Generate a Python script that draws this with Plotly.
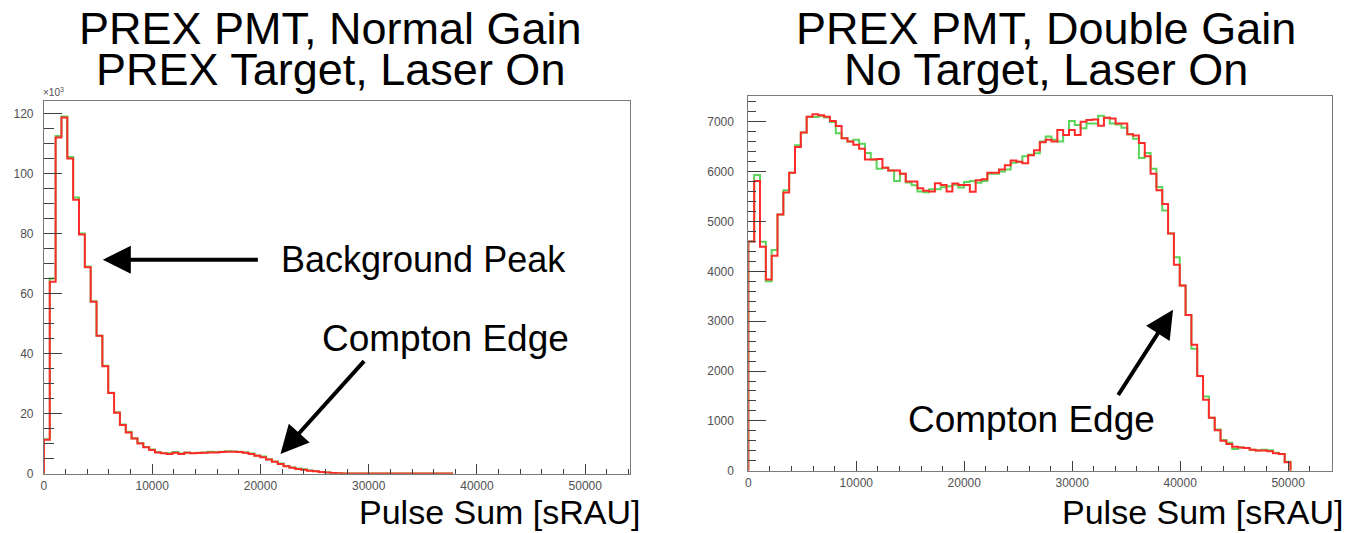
import plotly.graph_objects as go

W, H = 1360, 533
BIN_WIDTH = 540

# ---------------- data ----------------
# Left: PREX PMT, normal gain, PREX target, laser on  (counts in units of 10^3)
left_red_k = [11.3, 64.0, 112.0, 118.7, 105.0, 91.3, 79.7, 68.8, 57.3, 46.0,
              35.8, 26.9, 20.3, 16.2, 13.7, 11.7, 10.1, 8.8, 7.9, 7.1,
              6.8, 6.6, 7.0, 6.6, 7.0, 6.8, 6.9, 7.0, 7.1, 7.1,
              7.2, 7.3, 7.3, 7.2, 7.0, 6.6, 6.0, 5.5, 4.7, 4.0,
              3.2, 2.5, 2.0, 1.6, 1.3, 1.0, 0.8, 0.6, 0.4, 0.25,
              0.15, 0.1, 0.1, 0.1, 0.1, 0.1, 0.1, 0.1, 0.1, 0.1,
              0.1, 0.1, 0.1, 0.1, 0.1, 0.1, 0.1, 0.1, 0.1, 0.1]
left_green_k = [11.5, 65.0, 112.5, 119.0, 105.5, 92.0, 80.0, 69.0, 57.5, 46.0,
                36.0, 27.0, 20.5, 16.4, 14.0, 11.8, 10.2, 8.9, 8.1, 7.2,
                6.9, 6.8, 7.2, 6.7, 7.1, 6.9, 7.0, 7.1, 7.3, 7.2,
                7.3, 7.5, 7.4, 7.3, 7.1, 6.7, 6.1, 5.7, 4.8, 4.1,
                3.4, 2.6, 2.1, 1.7, 1.5, 1.1, 0.9, 0.6, 0.4, 0.25,
                0.15, 0.1, 0.1, 0.1, 0.1, 0.1, 0.1, 0.1, 0.1, 0.1,
                0.1, 0.1, 0.1, 0.1, 0.1, 0.1, 0.1, 0.1, 0.1, 0.1]

# Right: PREX PMT, double gain, no target, laser on  (counts)
right_red = [4600, 5815, 4495, 3838, 4314, 5142, 5584, 5980, 6495, 6785,
             7102, 7155, 7135, 7102, 7016, 6917, 6673, 6607, 6541, 6462,
             6244, 6244, 6257, 6079, 6026, 6026, 5960, 5802, 5802, 5670,
             5617, 5604, 5769, 5736, 5604, 5762, 5736, 5736, 5597, 5828,
             5848, 5980, 5980, 6046, 6132, 6224, 6200, 6172, 6330, 6429,
             6594, 6640, 6607, 6838, 6739, 6838, 6739, 7003, 7036, 7050,
             6924, 7082, 7069, 6970, 6970, 6752, 6726, 6574, 6310, 5960,
             5630, 5353, 4759, 4132, 3716, 3123, 2529, 1901, 1426, 1063,
             812, 601, 535, 482, 465, 455, 420, 405, 405, 390,
             350, 337, 172]
right_green = [4600, 5934, 4594, 3800, 4429, 5142, 5630, 5980, 6530, 6785,
               7102, 7100, 7120, 7090, 7000, 6772, 6673, 6607, 6640, 6560,
               6376, 6244, 6059, 6079, 6026, 5815, 5960, 5782, 5730, 5604,
               5590, 5650, 5650, 5690, 5710, 5740, 5683, 5795, 5815, 5780,
               5815, 5960, 5960, 6006, 6046, 6180, 6200, 6310, 6343, 6370,
               6607, 6706, 6640, 6607, 6739, 7016, 6937, 6871, 6970, 6970,
               7122, 7082, 6970, 6950, 6884, 6752, 6660, 6277, 6376, 6059,
               5696, 5221, 4759, 4284, 3716, 3123, 2450, 1901, 1492, 1063,
               830, 615, 560, 436, 465, 455, 420, 405, 420, 410,
               360, 337, 180]

left_title = ["PREX PMT, Normal Gain", "PREX Target, Laser On"]
right_title = ["PREX PMT, Double Gain", "No Target, Laser On"]
x_title = "Pulse Sum [sRAU]"


def step_xy(values, drop_end=False):
    n = len(values)
    edges = [i * BIN_WIDTH for i in range(n + 1)]
    x = [0] + edges
    y = [0] + list(values) + [values[-1]]
    if drop_end:
        x.append(edges[-1])
        y.append(0)
    return x, y


RED = "#ff2b2b"
GREEN = "#5ad55a"
FONT = "Liberation Sans, Arial, sans-serif"

fig = go.Figure()

for vals, col, xa, ya, drop in [
    (left_green_k, GREEN, "x", "y", False),
    (left_red_k, RED, "x", "y", False),
    (right_green, GREEN, "x2", "y2", True),
    (right_red, RED, "x2", "y2", True),
]:
    xs, ys = step_xy(vals, drop)
    fig.add_trace(go.Scatter(x=xs, y=ys, mode="lines", line=dict(color=col, width=2, shape="hv"),
                             xaxis=xa, yaxis=ya, showlegend=False, hoverinfo="skip"))


def px(x):
    return x / W


def py(y):
    return 1 - y / H


axis_common = dict(showgrid=False, zeroline=False, showline=True, linecolor="#7a7a7a", linewidth=1,
                   mirror=True, ticks="inside", tickcolor="#404040", tickwidth=1, tickformat="d",
                   tickfont=dict(family=FONT, size=12, color="#505050"))
minor_x = dict(dtick=2000, ticklen=5, ticks="inside", tickcolor="#404040")

fig.update_layout(
    width=W, height=H, margin=dict(l=0, r=0, t=0, b=0),
    paper_bgcolor="white", plot_bgcolor="white",
    xaxis=dict(domain=[px(41), px(628)], range=[0, 54100], anchor="y",
               dtick=10000, ticklen=10, minor=minor_x, ticklabelstandoff=1,
               **axis_common),
    yaxis=dict(domain=[py(480), py(102)], range=[0, 124.3], anchor="x",
               dtick=20, ticklen=18, minor=dict(dtick=5, ticklen=10, ticks="inside", tickcolor="#404040"),
               ticklabelstandoff=7, **axis_common),
    xaxis2=dict(domain=[px(747), px(1332)], range=[0, 54070], anchor="y2",
                dtick=10000, ticklen=10, minor=minor_x, ticklabelstandoff=1,
                **axis_common),
    yaxis2=dict(domain=[py(477), py(97)], range=[0, 7525], anchor="x2",
                dtick=1000, ticklen=18, minor=dict(dtick=200, ticklen=8, ticks="inside", tickcolor="#404040"),
                ticklabelstandoff=11, **axis_common),
)

ann = []
# titles
for lines, cx in [(left_title, 328), (right_title, 1045)]:
    for i, t in enumerate(lines):
        ann.append(dict(text=t, x=px(cx), y=py(29 + 41 * i), xref="paper", yref="paper",
                        xanchor="center", yanchor="middle", showarrow=False,
                        font=dict(family=FONT, size=45, color="black")))
# x-axis titles
for rx in [641, 1346]:
    ann.append(dict(text=x_title, x=px(rx), y=py(519), xref="paper", yref="paper",
                    xanchor="right", yanchor="middle", showarrow=False,
                    font=dict(family=FONT, size=34, color="black")))
# x10^3
ann.append(dict(text="×10<sup>3</sup>", x=px(38), y=py(93), xref="paper", yref="paper",
                xanchor="left", yanchor="middle", showarrow=False,
                font=dict(family=FONT, size=10, color="#505050")))

# text labels
ann.append(dict(text="Background Peak", x=px(277), y=py(263), xref="paper", yref="paper",
                xanchor="left", yanchor="middle", showarrow=False,
                font=dict(family=FONT, size=36, color="black")))
ann.append(dict(text="Compton Edge", x=px(318), y=py(343), xref="paper", yref="paper",
                xanchor="left", yanchor="middle", showarrow=False,
                font=dict(family=FONT, size=37, color="black")))
ann.append(dict(text="Compton Edge", x=px(905), y=py(425), xref="paper", yref="paper",
                xanchor="left", yanchor="middle", showarrow=False,
                font=dict(family=FONT, size=37, color="black")))

# arrows (data coordinates)
arrows = [
    ("x", "y", 5440, 71.3, 19900, 71.3),
    ("x", "y", 21850, 6.6, 29700, 38.0),
    ("x2", "y2", 39340, 3230, 34170, 1490),
]
for xa, ya, hx, hy, tx, ty in arrows:
    ann.append(dict(x=hx, y=hy, ax=tx, ay=ty, xref=xa, yref=ya, axref=xa, ayref=ya,
                    text="", showarrow=True, arrowhead=2, arrowsize=1.4, arrowwidth=4,
                    arrowcolor="black"))

fig.update_layout(annotations=ann)
fig.write_html("out.html")
